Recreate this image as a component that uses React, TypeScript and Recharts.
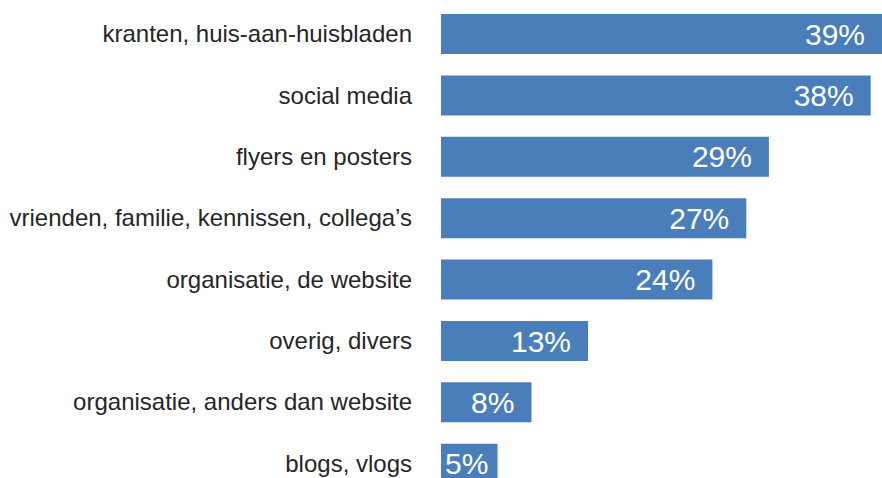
import { BarChart, Bar, XAxis, YAxis, LabelList } from "recharts";

const categories = [
  "kranten, huis-aan-huisbladen",
  "social media",
  "flyers en posters",
  "vrienden, familie, kennissen, collega’s",
  "organisatie, de website",
  "overig, divers",
  "organisatie, anders dan website",
  "blogs, vlogs",
];
const percentages = [39, 38, 29, 27, 24, 13, 8, 5];

const data = categories.map((name, i) => ({ name, value: percentages[i] }));

const FONT = "'Liberation Sans', Arial, Helvetica, sans-serif";
const LABEL_SIZE = 30;

// value label at the inner end of the bar, kept inside the bar when it is short
const ValueLabel = (props: any) => {
  const { x, y, width, height, value } = props;
  const text = `${value}%`;
  const textW = LABEL_SIZE * (0.556 * (text.length - 1) + 0.889);
  let endX = x + width - 17;
  if (endX - textW < x + 4) endX = x + 4 + textW;
  return (
    <text
      x={endX}
      y={y + height / 2}
      dy="0.355em"
      textAnchor="end"
      fill="#ffffff"
      fontSize={LABEL_SIZE}
      fontFamily={FONT}
    >
      {text}
    </text>
  );
};

export default function App() {
  return (
    <div
      style={{
        position: "absolute",
        left: 0,
        top: 0,
        width: 882,
        height: 478,
        overflow: "hidden",
        background: "#fff",
        fontFamily: FONT,
      }}
    >
      <BarChart
        width={882}
        height={500}
        data={data}
        layout="vertical"
        margin={{ top: 3, right: 0, bottom: 6, left: 0 }}
        barCategoryGap={0}
      >
        <XAxis type="number" domain={[0, 39]} hide height={0} />
        <YAxis
          type="category"
          dataKey="name"
          width={441}
          axisLine={false}
          tickLine={false}
          tickSize={0}
          tickMargin={29}
          tick={{ fill: "#262626", fontSize: 24, fontFamily: FONT }}
          interval={0}
        />
        <Bar dataKey="value" fill="#4a7ebb" barSize={40} isAnimationActive={false}>
          <LabelList dataKey="value" content={<ValueLabel />} />
        </Bar>
      </BarChart>
    </div>
  );
}
